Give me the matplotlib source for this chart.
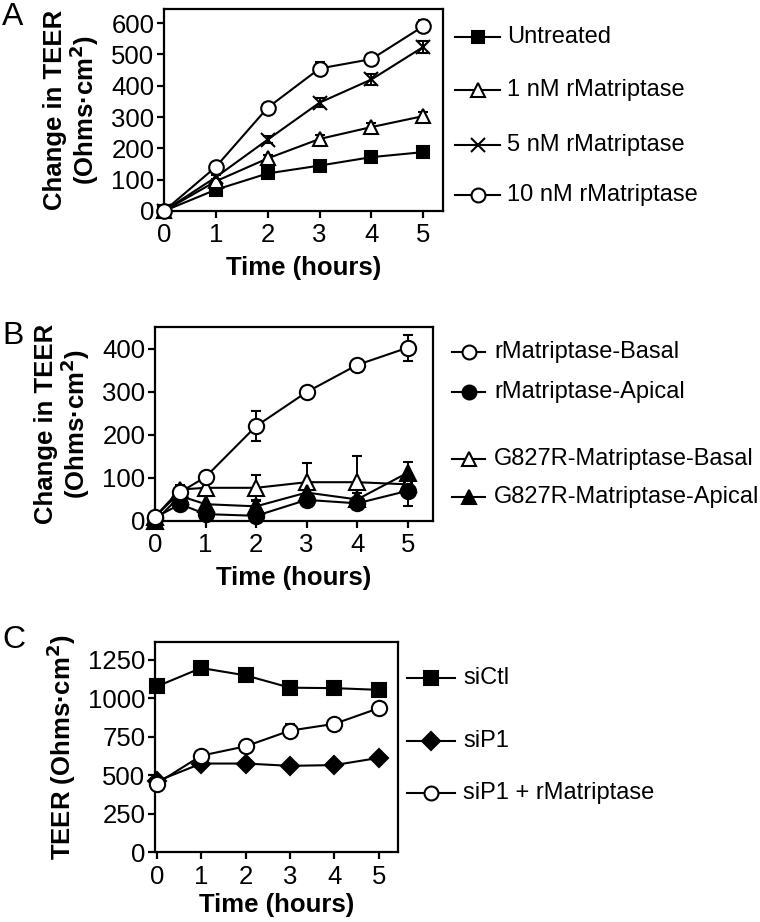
import matplotlib
matplotlib.use("Agg")
import matplotlib.pyplot as plt
from matplotlib.lines import Line2D

plt.rcParams["font.family"] = ["Liberation Sans", "DejaVu Sans"]

# ---------------- data ----------------
# Panel A
hours_a = [0, 1, 2, 3, 4, 5]
untreated = [0, 68, 120, 145, 172, 188]
untreated_err = [0, 6, 8, 8, 8, 10]
nm1 = [0, 95, 168, 230, 268, 303]
nm1_err = [0, 8, 10, 12, 12, 14]
nm5 = [0, 108, 228, 346, 420, 524]
nm5_err = [0, 8, 12, 15, 18, 18]
nm10 = [0, 141, 330, 455, 485, 590]
nm10_err = [0, 10, 12, 20, 15, 20]

# Panel B
hours_b = [0, 0.5, 1, 2, 3, 4, 5]
r_basal = [10, 67, 102, 220, 299, 362, 402]
r_basal_err = [0, 8, 10, 35, 8, 8, 30]
r_apical = [8, 39, 16, 12, 49, 41, 70]
r_apical_err = [0, 8, 8, 8, 10, 10, 35]
g_basal = [10, 73, 77, 77, 90, 90, 85]
g_basal_err = [0, 10, 12, 30, 45, 60, 10]
g_apical = [0, 58, 39, 34, 66, 50, 112]
g_apical_err = [0, 10, 18, 15, 15, 15, 25]

# Panel C
hours_c = [0, 1, 2, 3, 4, 5]
sictl = [1076, 1196, 1148, 1068, 1065, 1054]
sip1 = [460, 575, 575, 560, 565, 612]
sip1_rmat = [445, 626, 687, 789, 833, 935]
sip1_rmat_err = [0, 10, 10, 40, 10, 10]

LBL_A = ["Untreated", "1 nM rMatriptase", "5 nM rMatriptase", "10 nM rMatriptase"]
LBL_B = ["rMatriptase-Basal", "rMatriptase-Apical",
         "G827R-Matriptase-Basal", "G827R-Matriptase-Apical"]
LBL_C = ["siCtl", "siP1", "siP1 + rMatriptase"]

# ---------------- canvas ----------------
W, H = 760, 922
fig = plt.figure(figsize=(W / 100, H / 100), dpi=100)
fig.patch.set_facecolor("white")


def px(x):
    return x / W


def py(y):
    return 1 - y / H


def axes_px(left, top, right, bottom):
    return fig.add_axes([px(left), py(bottom), px(right) - px(left), py(top) - py(bottom)])


def style_axes(ax):
    for s in ax.spines.values():
        s.set_linewidth(1.6)
    ax.tick_params(direction="out", length=5, width=1.6, labelsize=18.5, pad=2)
    ax.tick_params(axis="x", pad=4)


def series(ax, x, y, err, marker, filled, ms):
    fc = "black" if filled else "white"
    ax.errorbar(x, y, yerr=err, color="black", lw=1.5, elinewidth=1.4,
                capsize=3.5, capthick=1.4, marker=marker, ms=ms,
                mfc=fc, mec="black", mew=1.5, clip_on=False, zorder=3)


def legend_entry(x0, x1, y, text, marker, filled, ms, tx):
    fc = "black" if filled else "white"
    fig.add_artist(Line2D([px(x0), px(x1)], [py(y), py(y)], color="black", lw=1.5,
                          transform=fig.transFigure))
    fig.add_artist(Line2D([px((x0 + x1) / 2)], [py(y)], marker=marker, ms=ms,
                          mfc=fc, mec="black", mew=1.5, color="black",
                          transform=fig.transFigure))
    fig.text(px(tx), py(y), text, va="center", ha="left", fontsize=17)


YLAB = "Change in TEER\n(Ohms\u00b7cm$^\\mathbf{2}$)"

# ---------------- panel A ----------------
axA = axes_px(164, 9, 443, 211)
style_axes(axA)
series(axA, hours_a, untreated, untreated_err, "s", True, 8)
series(axA, hours_a, nm1, nm1_err, "^", False, 9.5)
series(axA, hours_a, nm5, nm5_err, "x", False, 10)
series(axA, hours_a, nm10, nm10_err, "o", False, 10.5)
axA.set_xlim(0, 5.38)
axA.set_ylim(0, 645)
axA.set_xticks(range(6))
axA.set_yticks(range(0, 601, 100))
axA.set_xlabel("Time (hours)", fontsize=18.5, fontweight="bold", labelpad=6)
axA.set_ylabel(YLAB, fontsize=18.5, fontweight="bold", labelpad=7, linespacing=1.05)
fig.text(px(2), py(17), "A", fontsize=23, va="center", ha="left")

mk_a = [("s", True, 9), ("^", False, 10), ("x", False, 10), ("o", False, 10)]
for yy, lbl, (m, f, s) in zip([37, 90, 145, 195], LBL_A, mk_a):
    legend_entry(455, 500, yy, lbl, m, f, s, 507)

# ---------------- panel B ----------------
axB = axes_px(155, 327, 433, 521)
style_axes(axB)
series(axB, hours_b, g_basal, g_basal_err, "^", False, 11)
series(axB, hours_b, g_apical, g_apical_err, "^", True, 11)
series(axB, hours_b, r_apical, r_apical_err, "o", True, 11)
series(axB, hours_b, r_basal, r_basal_err, "o", False, 11)
axB.set_xlim(0, 5.5)
axB.set_ylim(0, 450)
axB.set_xticks(range(6))
axB.set_yticks(range(0, 401, 100))
axB.set_xlabel("Time (hours)", fontsize=18.5, fontweight="bold", labelpad=6)
axB.set_ylabel(YLAB, fontsize=18.5, fontweight="bold", labelpad=7, linespacing=1.05)
fig.text(px(2), py(336), "B", fontsize=23, va="center", ha="left")

mk_b = [("o", False, 10), ("o", True, 10), ("^", False, 10), ("^", True, 10)]
for yy, lbl, (m, f, s) in zip([352, 392, 459, 497], LBL_B, mk_b):
    legend_entry(452, 485, yy, lbl, m, f, s, 494)

# ---------------- panel C ----------------
axC = axes_px(155, 642, 398, 852)
style_axes(axC)
series(axC, hours_c, sictl, None, "s", True, 10)
series(axC, hours_c, sip1, None, "D", True, 9)
series(axC, hours_c, sip1_rmat, sip1_rmat_err, "o", False, 11)
axC.set_xlim(-0.04, 5.43)
axC.set_ylim(0, 1365)
axC.set_xticks(range(6))
axC.set_yticks(range(0, 1251, 250))
axC.set_xlabel("Time (hours)", fontsize=18.5, fontweight="bold", labelpad=3)
axC.set_ylabel("TEER (Ohms\u00b7cm$^\\mathbf{2}$)", fontsize=18.5,
               fontweight="bold", labelpad=7)
fig.text(px(2), py(640), "C", fontsize=23, va="center", ha="left")

mk_c = [("s", True, 10), ("D", True, 9), ("o", False, 10)]
for yy, lbl, (m, f, s) in zip([678, 741, 793], LBL_C, mk_c):
    legend_entry(407, 455, yy, lbl, m, f, s, 463)

fig.savefig("out.png", dpi=100, facecolor="white")
